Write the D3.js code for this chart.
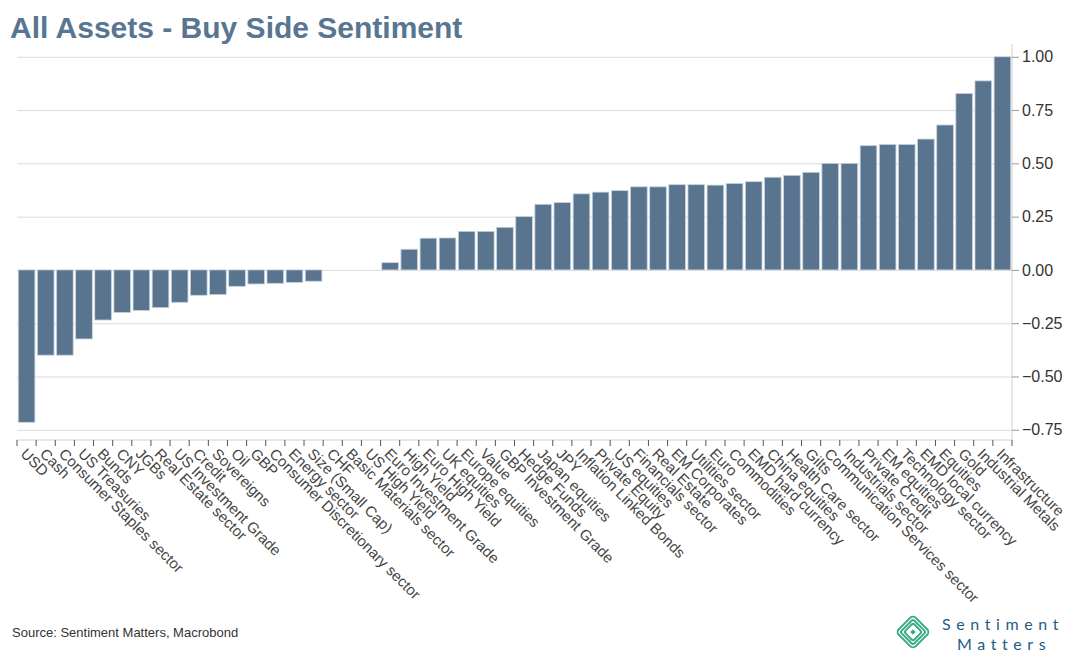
<!DOCTYPE html>
<html>
<head>
<meta charset="utf-8">
<script src="https://cdn.jsdelivr.net/npm/d3@7"></script>
<style>
  body { margin: 0; background: #fff; font-family: "Liberation Sans", Arial, sans-serif; }
  .grid line { stroke: #dcdcdc; }
  .grid .domain { display: none; }
</style>
</head>
<body>
<div id="chart"></div>
<script>
var categories = ["USD","Cash","Consumer Staples sector","US Treasuries","Bunds","CNY","JGBs",
  "Real Estate sector","US Investment Grade","Credit","Sovereigns","Oil","GBP",
  "Consumer Discretionary sector","Energy sector","Size (Small Cap)","CHF","Basic Materials sector",
  "US High Yield","Euro Investment Grade","High Yield","Euro High Yield","UK equities",
  "Europe equities","Value","GBP Investment Grade","Hedge Funds","Japan equities","JPY",
  "Inflation Linked Bonds","Private Equity","US equities","Financials sector","Real Estate",
  "EM Corporates","Utilities sector","Euro","Commodities","EMD hard currency","China equities",
  "Health Care sector","Gilts","Communication Services sector","Industrials sector",
  "Private Credit","EM equities","Technology sector","EMD local currency","Equities","Gold",
  "Industrial Metals","Infrastructure"];

var sentiment = [-0.715,-0.40,-0.40,-0.324,-0.235,-0.20,-0.19,-0.177,-0.152,-0.119,-0.116,-0.077,
  -0.066,-0.063,-0.059,-0.053,0,0,0,0.034,0.097,0.149,0.150,0.181,0.181,0.20,0.25,0.308,0.316,
  0.357,0.365,0.372,0.39,0.39,0.40,0.40,0.398,0.406,0.414,0.435,0.444,0.458,0.50,0.50,0.583,
  0.589,0.589,0.614,0.68,0.828,0.887,1.00];

var yTicks = [-0.75,-0.5,-0.25,0,0.25,0.5,0.75,1.0];

var width = 1072, height = 660;
var plotLeft = 17, plotRight = 1012, plotTop = 44, plotBottom = 440;

var svg = d3.select("#chart").append("svg")
  .attr("width", width)
  .attr("height", height);

var x = d3.scaleBand().domain(categories).range([plotLeft, plotRight]).paddingInner(0.13).paddingOuter(0.065);
var y = d3.scaleLinear().domain([-0.798, 1.06]).range([plotBottom, plotTop]);

// gridlines
svg.append("g")
  .attr("class", "grid")
  .attr("transform", "translate(" + plotLeft + ",0)")
  .call(d3.axisRight(y).tickValues(yTicks).tickSize(plotRight - plotLeft).tickFormat(""));

// bars
svg.selectAll(".bar")
  .data(categories)
  .enter()
  .append("rect")
  .attr("class", "bar")
  .attr("x", function(d) { return x(d); })
  .attr("y", function(d, i) { return y(Math.max(0, sentiment[i])); })
  .attr("width", x.bandwidth())
  .attr("height", function(d, i) { return Math.abs(y(sentiment[i]) - y(0)); })
  .attr("fill", "#58748f")
  .attr("stroke", "#c9d3dd")
  .attr("stroke-width", 0.8);

// right y axis
var yAxis = svg.append("g")
  .attr("transform", "translate(" + plotRight + ",0)")
  .call(d3.axisRight(y).tickValues(yTicks).tickSize(7).tickPadding(3)
    .tickFormat(d3.format(".2f")));
yAxis.select(".domain").attr("stroke", "#d0d0d0").attr("d", "M0," + plotTop + "V" + plotBottom);
yAxis.selectAll(".tick line").attr("stroke", "#999");
yAxis.selectAll("text").attr("font-size", 16).attr("fill", "#333")
  .attr("font-family", "Liberation Sans, Arial, sans-serif");

// bottom x axis with ticks on band boundaries
var xAxis = svg.append("g").attr("transform", "translate(0," + plotBottom + ")");
xAxis.append("line").attr("x1", plotLeft).attr("x2", plotRight).attr("stroke", "#d0d0d0");
var step = x.step();
var bounds = d3.range(categories.length + 1).map(function(i) {
  return x(categories[Math.min(i, categories.length - 1)]) - x.paddingInner() * step / 2 +
    (i === categories.length ? step : 0);
});
xAxis.selectAll(".xt").data(bounds).enter().append("line")
  .attr("x1", function(d) { return d; }).attr("x2", function(d) { return d; })
  .attr("y1", 0).attr("y2", 6).attr("stroke", "#555");

xAxis.selectAll(".xl").data(categories).enter().append("text")
  .attr("transform", function(d) {
    return "translate(" + (x(d) + x.bandwidth() / 2 - 3) + ",11) rotate(45)";
  })
  .attr("font-size", 15)
  .attr("fill", "#444")
  .attr("font-family", "Liberation Sans, Arial, sans-serif")
  .attr("dy", "0.35em")
  .text(function(d) { return d; });

// title
svg.append("text")
  .attr("x", 10).attr("y", 38)
  .attr("font-size", 30).attr("font-weight", "bold")
  .attr("fill", "#587592")
  .text("All Assets - Buy Side Sentiment");

// source
svg.append("text")
  .attr("x", 12).attr("y", 637)
  .attr("font-size", 13).attr("fill", "#333")
  .text("Source: Sentiment Matters, Macrobond");

// logo
var logo = svg.append("g").attr("transform", "translate(913,632) rotate(45)");
[20, 14, 8.5].forEach(function(s, i) {
  logo.append("rect")
    .attr("x", -s / 2 - 2).attr("y", -s / 2 - 2).attr("width", s + 4).attr("height", s + 4)
    .attr("rx", i === 0 ? 4 : 2)
    .attr("fill", "none").attr("stroke", "#3daa86").attr("stroke-width", 2);
});
logo.append("rect").attr("x", -2).attr("y", -2).attr("width", 4).attr("height", 4).attr("fill", "#3daa86");

svg.append("text").attr("x", 942).attr("y", 630)
  .attr("font-size", 16).attr("letter-spacing", 5.6).attr("fill", "#1f5c84")
  .attr("font-family", "Lato, sans-serif")
  .text("Sentiment");
svg.append("text").attr("x", 957).attr("y", 650)
  .attr("font-size", 16).attr("letter-spacing", 5.6).attr("fill", "#1f5c84")
  .attr("font-family", "Lato, sans-serif")
  .text("Matters");
</script>
</body>
</html>
